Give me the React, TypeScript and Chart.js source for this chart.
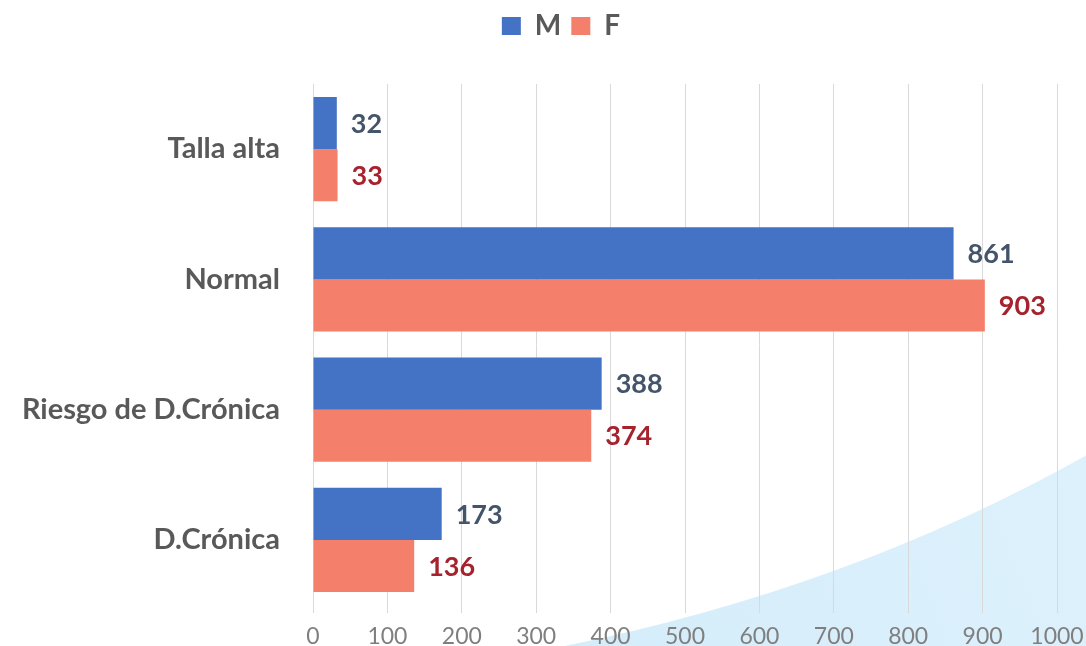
import { useEffect, useRef } from 'react';
import { Chart, registerables } from 'chart.js';

Chart.register(...registerables);

const categories = ['Talla alta', 'Normal', 'Riesgo de D.Crónica', 'D.Crónica'];
const seriesNames = ['M', 'F'];
const valuesM = [32, 861, 388, 173];
const valuesF = [33, 903, 374, 136];
const barColors = ['#4472c4', '#f47f6b'];
const labelColors = ['#44546a', '#a6232e'];
const axisMin = 0;
const axisMax = 1000;
const axisStep = 100;

const backgroundPlugin = {
  id: 'bgSwoosh',
  beforeDraw(chart: any) {
    const { ctx, width, height } = chart;
    ctx.save();
    ctx.fillStyle = '#ffffff';
    ctx.fillRect(0, 0, width, height);
    const g = ctx.createLinearGradient(width * 0.5, height, width, height * 0.65);
    g.addColorStop(0, '#d4edfa');
    g.addColorStop(1, '#ddf1fc');
    ctx.beginPath();
    ctx.moveTo(width * 0.52, height);
    ctx.quadraticCurveTo(width * 0.783, height * 0.91, width, height * 0.705);
    ctx.lineTo(width, height);
    ctx.closePath();
    ctx.fillStyle = g;
    ctx.fill();
    ctx.restore();
  },
};

const legendShiftPlugin = {
  id: 'legendShift',
  afterLayout(chart: any) {
    const lg = chart.legend;
    if (!lg) return;
    const target = 561;
    const shift = target - (lg.left + lg.right) / 2;
    lg.left += shift;
    lg.right += shift;
  },
};

const valueLabelPlugin = {
  id: 'valueLabels',
  afterDatasetsDraw(chart: any) {
    const { ctx } = chart;
    ctx.save();
    ctx.font = 'bold 27px Lato';
    ctx.textAlign = 'left';
    ctx.textBaseline = 'middle';
    chart.data.datasets.forEach((ds: any, i: number) => {
      const meta = chart.getDatasetMeta(i);
      ctx.fillStyle = labelColors[i];
      meta.data.forEach((bar: any, j: number) => {
        ctx.fillText(String(ds.data[j]), bar.x + 14, bar.y + 1);
      });
    });
    ctx.restore();
  },
};

export default function App() {
  const ref = useRef<HTMLCanvasElement | null>(null);
  useEffect(() => {
    if (!ref.current) return;
    const chart = new Chart(ref.current, {
      type: 'bar',
      data: {
        labels: categories,
        datasets: [
          { label: seriesNames[0], data: valuesM, backgroundColor: barColors[0], categoryPercentage: 0.8, barPercentage: 1.0 },
          { label: seriesNames[1], data: valuesF, backgroundColor: barColors[1], categoryPercentage: 0.8, barPercentage: 1.0 },
        ],
      },
      options: {
        indexAxis: 'y',
        animation: false,
        responsive: true,
        maintainAspectRatio: false,
        layout: { padding: { top: 2, right: 29, bottom: 0, left: 0 } },
        plugins: {
          legend: {
            position: 'top',
            labels: {
              boxWidth: 19,
              boxHeight: 18,
              padding: 10,
              color: '#595959',
              font: { family: 'Lato', size: 28, weight: 'bold' },
            },
          },
          title: {
            display: true,
            text: '',
            weight: 100,
            font: { size: 10, lineHeight: 1 },
            padding: { top: 24, bottom: 0 },
          } as any,
          tooltip: { enabled: false },
        },
        scales: {
          x: {
            min: axisMin,
            max: axisMax,
            ticks: {
              stepSize: axisStep,
              color: '#7f7f7f',
              padding: 10,
              font: { family: 'Lato', size: 23, weight: 'normal' },
              maxRotation: 0,
              callback: (v: any) => String(v),
            },
            grid: { color: '#d9d9d9', lineWidth: 1, drawTicks: true, tickLength: 8 },
            border: { display: false },
            afterFit(scale: any) {
              scale.height = 41;
              scale.paddingLeft = 0;
              scale.paddingRight = 0;
            },
          },
          y: {
            ticks: {
              color: '#595959',
              padding: 33,
              font: { family: 'Lato', size: 29, weight: 'bold' },
            },
            grid: { display: false, drawTicks: false },
            border: { display: false },
            afterFit(scale: any) {
              scale.width = 313;
              scale.paddingTop = 0;
              scale.paddingBottom = 0;
            },
          },
        },
      },
      plugins: [backgroundPlugin, legendShiftPlugin, valueLabelPlugin],
    });
    return () => chart.destroy();
  }, []);
  return (
    <div style={{ position: 'fixed', left: 0, top: 0, width: 1086, height: 646 }}>
      <canvas ref={ref} />
    </div>
  );
}
